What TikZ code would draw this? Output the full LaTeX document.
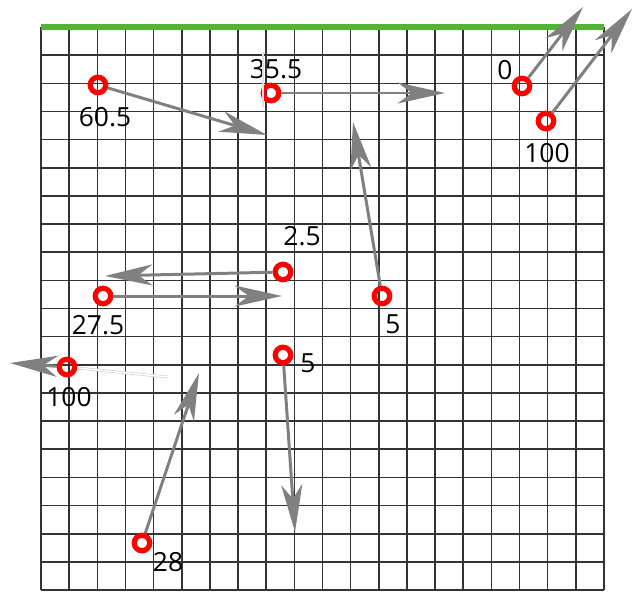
\documentclass[tikz,border=0pt]{standalone}
\usepackage{fontspec}
\setmainfont{Open Sans}
\usepackage{tikz}
\usetikzlibrary{arrows.meta}
\usepackage{xcolor}

\definecolor{vecgray}{RGB}{128,128,128}
\definecolor{topgreen}{RGB}{84,178,52}

\begin{document}
\begin{tikzpicture}[x=0.02cm,y=-0.02cm,
		marker/.style={circle,draw=red,line width=3pt,minimum size=0.31cm,inner sep=0pt},
		val/.style={font=\fontsize{15}{18}\selectfont,inner sep=0pt},
		vec/.style={draw=vecgray,line width=1.7pt,-{Stealth[length=27pt,width=12pt,inset=8pt]}},
		ghost/.style={draw=gray!35,line width=0.4pt,double=white,double distance=0.8pt}]
	
	\useasboundingbox (0,0) rectangle (635,592);
	
	% grid
	\foreach \i in {0,...,20} {
		\draw[black!80,line width=0.9pt] ({41+28.15*\i},27) -- ({41+28.15*\i},590);
		\draw[black!80,line width=0.9pt] (41,{27+28.15*\i}) -- (604,{27+28.15*\i});
	}
	\draw[topgreen,line width=3pt] (41,27) -- (604,27);
	
	% markers
	\node[marker] (m1) at (98,85) {};
	\node[marker] (m2) at (271,93) {};
	\node[marker] (m3) at (522,86) {};
	\node[marker] (m4) at (546,121) {};
	\node[marker] (m5) at (283,272) {};
	\node[marker] (m6) at (103,296) {};
	\node[marker] (m7) at (382,296) {};
	\node[marker] (m8) at (283,355) {};
	\node[marker] (m9) at (67,367) {};
	\node[marker] (m10) at (142,543) {};
	
	% values
	\node[val] (v1) at (105,117) {60.5};
	\node[val] (v2) at (276,69) {35.5};
	\node[val] (v3) at (505,70) {0};
	\node[val] (v4) at (547,153) {100};
	\node[val] (v5) at (302,236) {2.5};
	\node[val] (v6) at (98,325) {27.5};
	\node[val] (v7) at (393,324) {5};
	\node[val] (v8) at (308,363) {5};
	\node[val] (v9) at (69,397) {100};
	\node[val] (v10) at (168,562) {28};
	
	% arrow ends
	\coordinate (e1) at (267,135);
	\coordinate (e2) at (445,93);
	\coordinate (e3) at (583,7);
	\coordinate (e4) at (632,9);
	\coordinate (e5) at (105,276);
	\coordinate (e6) at (282,296);
	\coordinate (e7) at (353,122);
	\coordinate (e8) at (295,532);
	\coordinate (e9) at (10,363);
	\coordinate (e10) at (199,373);
	\coordinate (g1) at (168,377);
	\coordinate (g2a) at (263,52);
	\coordinate (g2b) at (263,107);
	
	% faint traces
	\draw[ghost] (m9) -- (g1);
	\draw[gray!25,line width=0.6pt] (g2a) -- (g2b);
	
	% vectors
	\foreach \k in {1,...,10}
		\draw[vec] (m\k) -- (e\k);
	
\end{tikzpicture}
\end{document}
